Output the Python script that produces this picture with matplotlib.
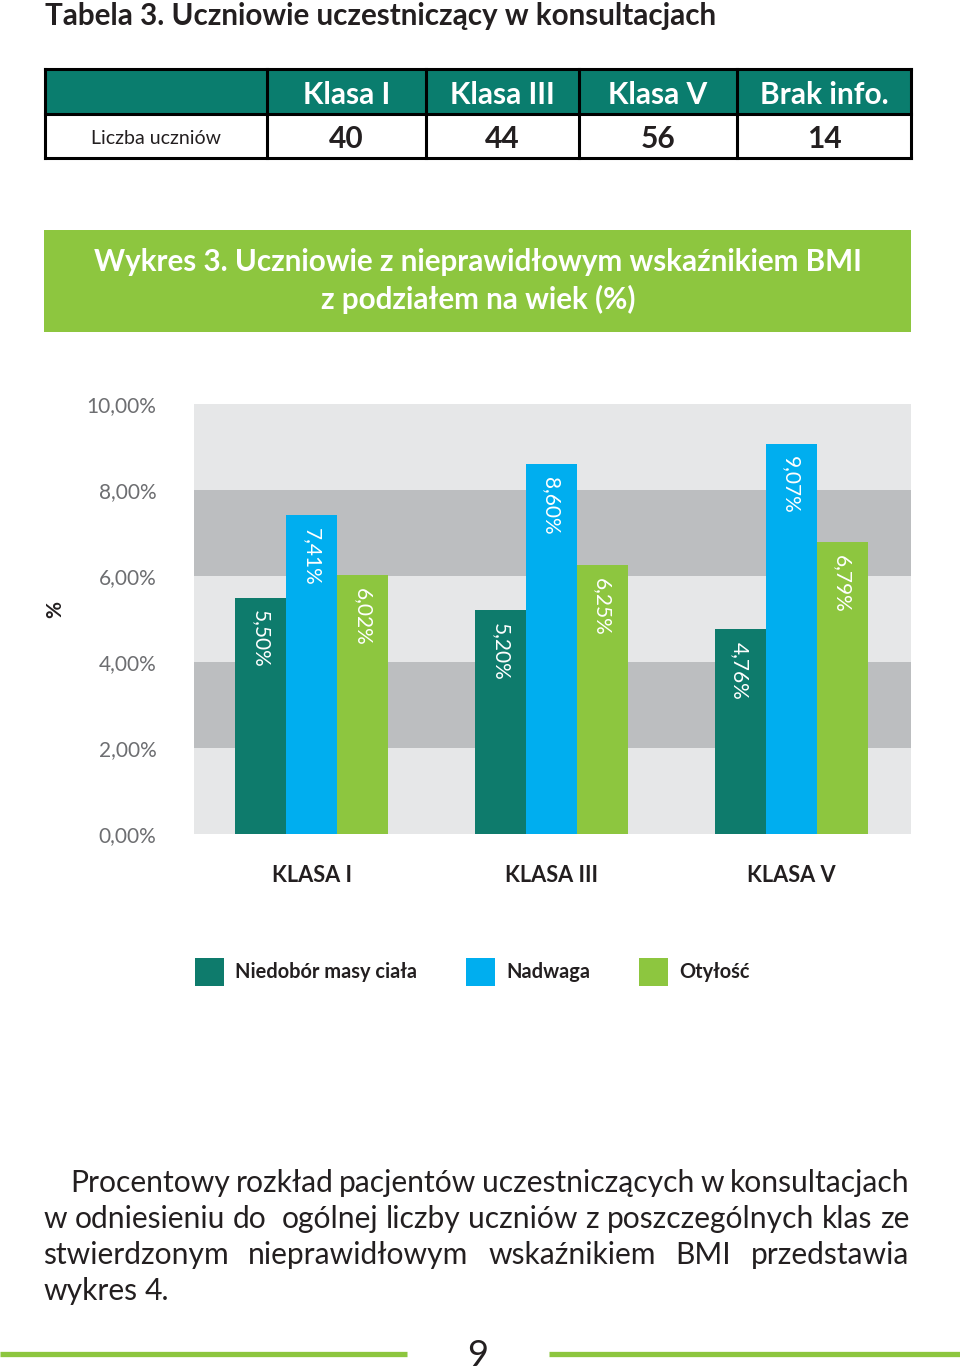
import matplotlib
matplotlib.use("Agg")
import matplotlib.pyplot as plt
from matplotlib.patches import Rectangle, Patch
import numpy as np

plt.rcParams['font.family'] = ['Lato', 'DejaVu Sans']

# --- data ---
table_title = "Tabela 3. Uczniowie uczestniczący w konsultacjach"
table_cols = ["Klasa I", "Klasa III", "Klasa V", "Brak info."]
table_row_label = "Liczba uczniów"
table_counts = [40, 44, 56, 14]

chart_title = "Wykres 3. Uczniowie z nieprawidłowym wskaźnikiem BMI\nz podziałem na wiek (%)"
groups = ["KLASA I", "KLASA III", "KLASA V"]
series_names = ["Niedobór masy ciała", "Nadwaga", "Otyłość"]
niedobor = [5.50, 5.20, 4.76]
nadwaga = [7.41, 8.60, 9.07]
otylosc = [6.02, 6.25, 6.79]
yticks = [0, 2, 4, 6, 8, 10]

paragraph = [
    "Procentowy rozkład pacjentów uczestniczących w konsultacjach",
    "w odniesieniu do  ogólnej liczby uczniów z poszczególnych klas ze",
    "stwierdzonym nieprawidłowym wskaźnikiem BMI przedstawia",
    "wykres 4.",
]
page_number = "9"

TEAL = "#0e7b6c"
BLUE = "#00aeef"
GREEN = "#8dc63f"
BAND_LIGHT = "#e6e7e8"
BAND_DARK = "#bcbec0"
DARK_TEXT = "#231f20"

W, H = 960, 1371
fig = plt.figure(figsize=(9.6, 13.71), dpi=100)
fig.patch.set_facecolor("white")

# page-sized background axes in pixel coordinates (y down)
bg = fig.add_axes([0, 0, 1, 1])
bg.set_xlim(0, W)
bg.set_ylim(H, 0)
bg.axis("off")

# table title
bg.text(45, 16, table_title, fontsize=21.3, fontweight="bold", color=DARK_TEXT,
        ha="left", va="center")

# table
xe = [45, 267, 426, 579, 737, 911]
ye = [69, 114, 158]
bg.add_patch(Rectangle((xe[0], ye[0]), xe[-1] - xe[0], ye[1] - ye[0],
                       facecolor="#0a7d6e", edgecolor="none"))
for y in ye:
    bg.plot([xe[0], xe[-1]], [y, y], color="black", lw=2.2, solid_capstyle="projecting")
for x in xe:
    bg.plot([x, x], [ye[0], ye[-1]], color="black", lw=2.2, solid_capstyle="projecting")
for i, (col, cnt) in enumerate(zip(table_cols, table_counts)):
    cx = (xe[i + 1] + xe[i + 2]) / 2
    bg.text(cx, (ye[0] + ye[1]) / 2 + 3, col, fontsize=21.5, fontweight="bold",
            color="white", ha="center", va="center")
    bg.text(cx, (ye[1] + ye[2]) / 2 + 3, str(cnt), fontsize=21.5, fontweight="bold",
            color=DARK_TEXT, ha="center", va="center")
bg.text((xe[0] + xe[1]) / 2, (ye[1] + ye[2]) / 2 + 2, table_row_label, fontsize=14,
        color=DARK_TEXT, ha="center", va="center")

# green chart title box
bg.add_patch(Rectangle((44, 230), 867, 102, facecolor=GREEN, edgecolor="none"))
bg.text(478, 281, chart_title, fontsize=21.3, fontweight="bold", color="white",
        ha="center", va="center", linespacing=1.33)

# "%" axis label
bg.text(55, 610, "%", fontsize=15, fontweight="bold", color=DARK_TEXT,
        rotation=90, ha="center", va="center")

# --- chart ---
ax = fig.add_axes([194 / W, 1 - 834 / H, 717 / W, 430 / H])
ax.set_xlim(-0.49, 2.5)
ax.set_ylim(0, 10)
for k, lo in enumerate(range(0, 10, 2)):
    ax.axhspan(lo, lo + 2, color=BAND_LIGHT if k % 2 == 0 else BAND_DARK, lw=0, zorder=0)

x = np.arange(len(groups))
bw = 0.2125
for off, vals, color in zip([-bw, 0, bw], [niedobor, nadwaga, otylosc], [TEAL, BLUE, GREEN]):
    ax.bar(x + off, vals, width=bw, color=color, zorder=2, lw=0)
    for xi, v in zip(x + off, vals):
        ax.annotate(f"{v:.2f}%".replace(".", ","), (xi, v), xytext=(0, -9),
                    textcoords="offset points", rotation=-90, ha="center", va="top",
                    color="white", fontsize=15, zorder=3)

ax.set_yticks(yticks)
ax.set_yticklabels([f"{t:.2f}%".replace(".", ",") for t in yticks],
                   fontsize=15, color="#6d6e71")
ax.set_xticks(x)
ax.set_xticklabels(groups, fontsize=15.7, fontweight="bold", color=DARK_TEXT)
ax.tick_params(axis="y", length=0, pad=27)
ax.tick_params(axis="x", length=0, pad=22)
for s in ax.spines.values():
    s.set_visible(False)
ax.set_facecolor("none")

handles = [Patch(facecolor=c, edgecolor="none") for c in [TEAL, BLUE, GREEN]]
fig.legend(handles, series_names, loc="center left", bbox_to_anchor=(195 / W, 1 - 972 / H),
           ncol=3, frameon=False, borderpad=0, borderaxespad=0,
           handlelength=1.45, handleheight=1.75, handletextpad=0.55, columnspacing=2.45,
           prop={"size": 14.4, "weight": "bold"}, labelcolor=DARK_TEXT)

# --- paragraph, justified ---
renderer = fig.canvas.get_renderer()
FS = 21.6
line_y = [1183, 1219, 1255, 1291]
line_left = [70, 43, 43, 43]
right = 909
probe = bg.text(0, 0, "a a", fontsize=FS)
probe1 = bg.text(0, 0, "aa", fontsize=FS)
space = probe.get_window_extent(renderer).width - probe1.get_window_extent(renderer).width
probe.remove()
probe1.remove()
for i, (line, ly, lx) in enumerate(zip(paragraph, line_y, line_left)):
    words = line.split(" ")
    texts = [bg.text(lx, ly, w, fontsize=FS, color=DARK_TEXT, ha="left", va="center")
             for w in words]
    widths = [t.get_window_extent(renderer).width if w else 0.0
              for t, w in zip(texts, words)]
    if i == len(paragraph) - 1:
        gap = space
    else:
        gap = (right - lx - sum(widths)) / (len(words) - 1)
    pos = lx
    for t, wd in zip(texts, widths):
        t.set_x(pos)
        pos += wd + gap

# page number and footer lines
bg.plot([0, 407], [1354, 1354], color=GREEN, lw=3.8, solid_capstyle="butt")
bg.plot([549, 960], [1354, 1354], color=GREEN, lw=3.8, solid_capstyle="butt")
bg.text(478, 1355, page_number, fontsize=26, color=DARK_TEXT, ha="center", va="center")

fig.savefig("out.png", dpi=100)
